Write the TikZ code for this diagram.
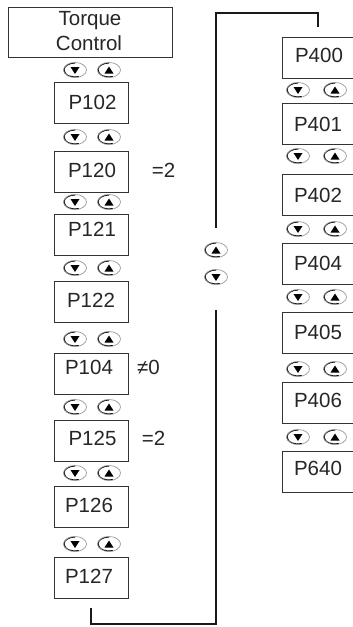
\documentclass[tikz,border=0pt]{standalone}
\usepackage{fontspec}
\setmainfont{Liberation Sans}
\usetikzlibrary{shapes.geometric}
\tikzset{
  box/.style={draw=black!80, line width=0.8pt, minimum width=74pt, minimum height=41pt, inner sep=0pt},
  rbox/.style={draw=black!80, line width=0.8pt, minimum width=90pt, minimum height=41pt, inner sep=0pt},
  txt/.style={anchor=base, inner sep=0pt, text=black!85, font=\fontsize{20.5}{24}\selectfont},
  btn/.style={ellipse, minimum width=23pt, minimum height=15pt, inner sep=0pt, draw=black!40, line width=0.7pt},
  downbtn/.style={btn, path picture={
      \draw[black, line width=2pt] ([shift={(90:11.5pt and 7.5pt)}]path picture bounding box.center)
        arc[start angle=90, end angle=290, x radius=11.5pt, y radius=7.5pt];
      \fill[black] ([shift={(-4.5pt,3pt)}]path picture bounding box.center) -- ++(9pt,0pt) -- ++(-4.5pt,-7pt) -- cycle;}},
  upbtn/.style={btn, path picture={
      \draw[black, line width=2pt] ([shift={(90:11.5pt and 7.5pt)}]path picture bounding box.center)
        arc[start angle=90, end angle=290, x radius=11.5pt, y radius=7.5pt];
      \fill[black] ([shift={(-4.5pt,-3.5pt)}]path picture bounding box.center) -- ++(9pt,0pt) -- ++(-4.5pt,7pt) -- cycle;}},
  conn/.style={draw=black!90, line width=2pt}
}
\begin{document}
\begin{tikzpicture}[x=1pt, y=-1pt]
\useasboundingbox (0,0) rectangle (353,627);
\clip (0,0) rectangle (353,627);
% title box
\node[draw=black!80, line width=0.8pt, minimum width=164pt, minimum height=50pt, inner sep=0pt] (tc) at (90,32) {};
\node[txt] (tct) at (90,25) {Torque};
\node[txt] (tcc) at (89,50) {Control};
% left column boxes
\node[box] (p102) at (91,102.5) {};
\node[box] (p120) at (91,171.5) {};
\node[box] (p121) at (91,235) {};
\node[box] (p122) at (91,302) {};
\node[box] (p104) at (91,373.5) {};
\node[box] (p125) at (91,441) {};
\node[box] (p126) at (91,507) {};
\node[box] (p127) at (91,577.5) {};
\node[txt] (t102) at (92.5,109.5) {P102};
\node[txt] (t120) at (92,177) {P120};
\node[txt] (t121) at (92,236) {P121};
\node[txt] (t122) at (91,307.5) {P122};
\node[txt] (t104) at (89,374.5) {P104};
\node[txt] (t125) at (92.5,445) {P125};
\node[txt] (t126) at (89,512) {P126};
\node[txt] (t127) at (89,583.5) {P127};
\node[txt] (e1) at (163.5,177) {=2};
\node[txt] (e2) at (148.5,374.5) {≠0};
\node[txt] (e3) at (153.5,445) {=2};
% left buttons
\foreach \y [count=\i] in {70,137,202,268,339,407,473,544} {
  \node[downbtn] (ld\i) at (75,\y) {};
  \node[upbtn] (lu\i) at (109,\y) {};
}
% right column boxes
\node[rbox] (p400) at (327,57.5) {};
\node[rbox] (p401) at (327,124) {};
\node[rbox] (p402) at (327,195) {};
\node[rbox] (p404) at (327,263.5) {};
\node[rbox] (p405) at (327,332.5) {};
\node[rbox] (p406) at (327,403) {};
\node[rbox] (p640) at (327,471.5) {};
\node[txt] (t400) at (319,62.5) {P400};
\node[txt] (t401) at (318,131) {P401};
\node[txt] (t402) at (318,202) {P402};
\node[txt] (t404) at (318,270) {P404};
\node[txt] (t405) at (318,339) {P405};
\node[txt] (t406) at (318,407.5) {P406};
\node[txt] (t640) at (318,475) {P640};
% right buttons
\foreach \y [count=\i] in {90,156,229,297,369,437} {
  \node[downbtn] (rd\i) at (298,\y) {};
  \node[upbtn] (ru\i) at (335,\y) {};
}
% middle buttons
\node[upbtn] (mu) at (216,250) {};
\node[downbtn] (md) at (216,277) {};
% loop connector
\coordinate (a1) at ([yshift=-10pt]p127.south);
\coordinate (a2) at (216,624);
\coordinate (a3) at (216,310);
\coordinate (b1) at (216,228);
\coordinate (b2) at (216,13);
\coordinate (b3) at (318,27);
\draw[conn] (a1) |- (a2) -- (a3);
\draw[conn] (b1) -- (b2) -| (b3);
\end{tikzpicture}
\end{document}
